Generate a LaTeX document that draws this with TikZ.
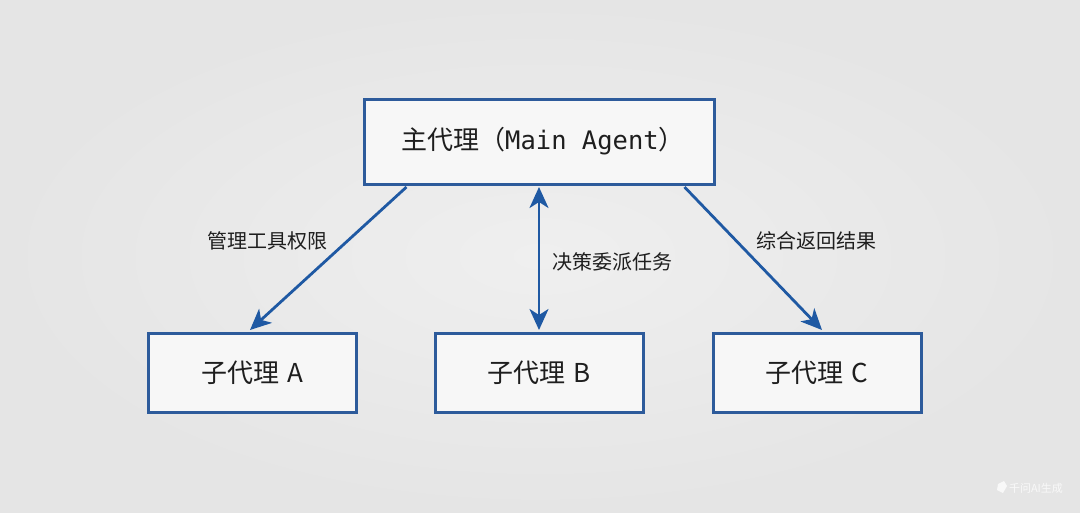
\documentclass[tikz,border=0pt]{standalone}
\usepackage{fontspec}
\setmainfont{Noto Sans CJK SC}
\newfontfamily\cjk{Noto Sans CJK SC}
\newfontfamily\monof{DejaVu Sans Mono}
\usetikzlibrary{arrows.meta,positioning}
\definecolor{bgc}{HTML}{EBEBEB}
\definecolor{bgedge}{HTML}{E5E5E5}
\definecolor{bgmid}{HTML}{EFEFEF}
\definecolor{boxfill}{HTML}{F7F7F7}
\definecolor{boxline}{HTML}{2D5B9B}
\definecolor{arrowc}{HTML}{1F59A3}
\definecolor{txt}{HTML}{1E1E1E}
\tikzset{
  x=1pt,y=-1pt,
  mainbox/.style={draw=boxline,line width=3pt,fill=boxfill,minimum width=350pt,minimum height=85pt,inner sep=0pt,font=\fontsize{26}{30}\selectfont,text=txt},
  subbox/.style={draw=boxline,line width=3pt,fill=boxfill,minimum width=208pt,minimum height=79pt,inner sep=0pt,font=\fontsize{26}{30}\selectfont,text=txt},
  conn/.style={draw=arrowc,line width=2.8pt,-{Stealth[length=21pt,width=19pt,inset=6pt]}},
  bconn/.style={draw=arrowc,line width=2.8pt,{Stealth[length=21pt,width=19pt,inset=6pt]}-{Stealth[length=21pt,width=19pt,inset=6pt]}},
  lbl/.style={font=\fontsize{20}{24}\selectfont,text=txt,inner sep=0pt}
}
\begin{document}
\begin{tikzpicture}
\useasboundingbox (0,0) rectangle (1080,512);
\fill[bgc] (0,0) rectangle (1080,512);
\shade[inner color=bgmid,outer color=bgedge] (0,0) rectangle (1080,512);
\node[mainbox] (main) at (539,141.5) {\hspace*{8pt}主代理（{\monof\fontsize{25.5}{30}\selectfont Main Agent}）};
\node[subbox] (A) at (252,372.5) {子代理\hspace{8pt}A};
\node[subbox] (B) at (539,372.5) {子代理\hspace{8pt}B};
\node[subbox] (C) at (817,372.5) {子代理\hspace{8pt}C};
\draw[conn] ([xshift=44pt,yshift=-1.5pt]main.south west) -- ([xshift=-2pt,yshift=1.5pt]A.north);
\draw[bconn] ([yshift=-1.5pt]main.south) -- ([yshift=1.5pt]B.north);
\draw[conn] ([xshift=-31pt,yshift=-1.5pt]main.south east) -- ([xshift=5pt,yshift=1.5pt]C.north);
\node[lbl] (la) at (267,241) {管理工具权限};
\node[lbl] (lb) at (612,262) {决策委派任务};
\node[lbl] (lc) at (816,241) {综合返回结果};
\node[font=\fontsize{11}{13}\selectfont,text=white,opacity=0.75,inner sep=0pt] (wm) at (1036,488) {千问AI生成};
\fill[white,opacity=0.75] (998,484) -- (1004,481) -- (1007,486) -- (1003,493) -- (997,490) -- cycle;
\end{tikzpicture}
\end{document}
